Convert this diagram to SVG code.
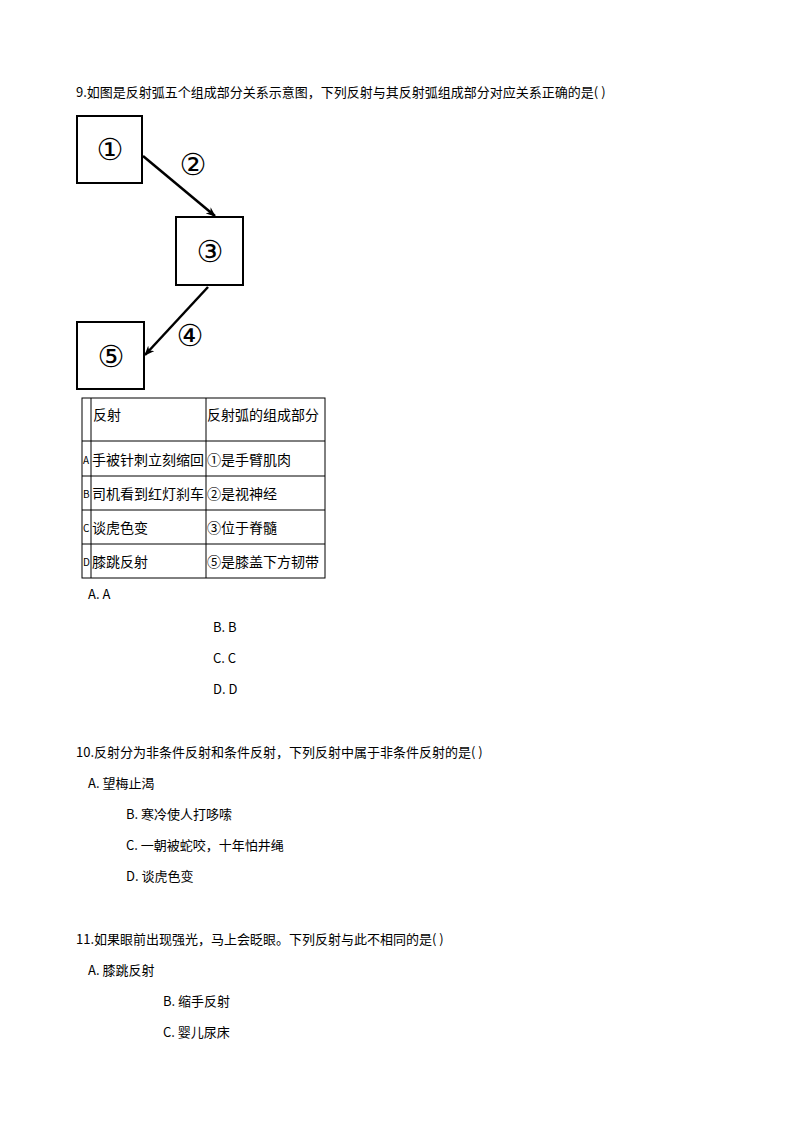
<svg xmlns="http://www.w3.org/2000/svg" width="794" height="1123" viewBox="0 0 794 1123">
<style>
text{font-family:"Noto Sans CJK SC","Noto Sans",sans-serif;font-size:13px;fill:#000}
.c{font-family:"DejaVu Sans","Noto Sans CJK SC",serif;font-size:30px;text-anchor:middle;font-weight:normal}
.b{fill:#fff;stroke:#000;stroke-width:2}
.t{stroke:#000;stroke-width:1;fill:none}
.s{font-size:10px}
.tb{font-size:14px}
</style>
<defs><marker id="ah" markerWidth="10" markerHeight="8" refX="9" refY="4" orient="auto" markerUnits="userSpaceOnUse"><path d="M0,0L10,4L0,8L3,4z" fill="#000"/></marker></defs>
<rect width="794" height="1123" fill="#fff"/>
<text x="76" y="97">9.如图是反射弧五个组成部分关系示意图，下列反射与其反射弧组成部分对应关系正确的是(   )</text>
<g id="n1"><rect class="b" x="77" y="116" width="65" height="67"/><text class="c" x="110" y="160">①</text></g>
<g id="n3"><rect class="b" x="176" y="217" width="67" height="68"/><text class="c" x="210" y="262">③</text></g>
<g id="n5"><rect class="b" x="77" y="322" width="67" height="67"/><text class="c" x="111" y="367">⑤</text></g>
<g id="connectors" stroke="#000" stroke-width="2.5" fill="none">
<line x1="143" y1="156" x2="215" y2="216" marker-end="url(#ah)"/>
<line x1="208" y1="287" x2="145" y2="355" marker-end="url(#ah)"/>
</g>
<text class="c" x="193" y="175">②</text>
<text class="c" x="190" y="346">④</text>
<g id="table">
<rect class="t" x="82" y="398" width="243" height="180"/>
<line class="t" x1="91" y1="398" x2="91" y2="578"/>
<line class="t" x1="206" y1="398" x2="206" y2="578"/>
<line class="t" x1="82" y1="441" x2="325" y2="441"/>
<line class="t" x1="82" y1="476" x2="325" y2="476"/>
<line class="t" x1="82" y1="510" x2="325" y2="510"/>
<line class="t" x1="82" y1="544" x2="325" y2="544"/>
<text class="tb" x="93" y="420">反射</text><text class="tb" x="207" y="420">反射弧的组成部分</text>
<text class="s" x="83" y="464">A</text><text class="tb" x="92" y="465">手被针刺立刻缩回</text><text class="tb" x="207" y="465">①是手臂肌肉</text>
<text class="s" x="83" y="498">B</text><text class="tb" x="92" y="499">司机看到红灯刹车</text><text class="tb" x="207" y="499">②是视神经</text>
<text class="s" x="83" y="532">C</text><text class="tb" x="92" y="533">谈虎色变</text><text class="tb" x="207" y="533">③位于脊髓</text>
<text class="s" x="83" y="566">D</text><text class="tb" x="92" y="567">膝跳反射</text><text class="tb" x="207" y="567">⑤是膝盖下方韧带</text>
</g>
<text x="88" y="599" font-size="12">A. A</text>
<text x="213" y="632" font-size="12">B. B</text>
<text x="213" y="663" font-size="12">C. C</text>
<text x="213" y="694" font-size="12">D. D</text>
<text x="76" y="757">10.反射分为非条件反射和条件反射，下列反射中属于非条件反射的是(   )</text>
<text x="88" y="788">A. 望梅止渴</text>
<text x="126" y="819">B. 寒冷使人打哆嗦</text>
<text x="126" y="850">C. 一朝被蛇咬，十年怕井绳</text>
<text x="126" y="881">D. 谈虎色变</text>
<text x="76" y="944">11.如果眼前出现强光，马上会眨眼。下列反射与此不相同的是(   )</text>
<text x="88" y="975">A. 膝跳反射</text>
<text x="163" y="1006">B. 缩手反射</text>
<text x="163" y="1037">C. 婴儿尿床</text>
</svg>
